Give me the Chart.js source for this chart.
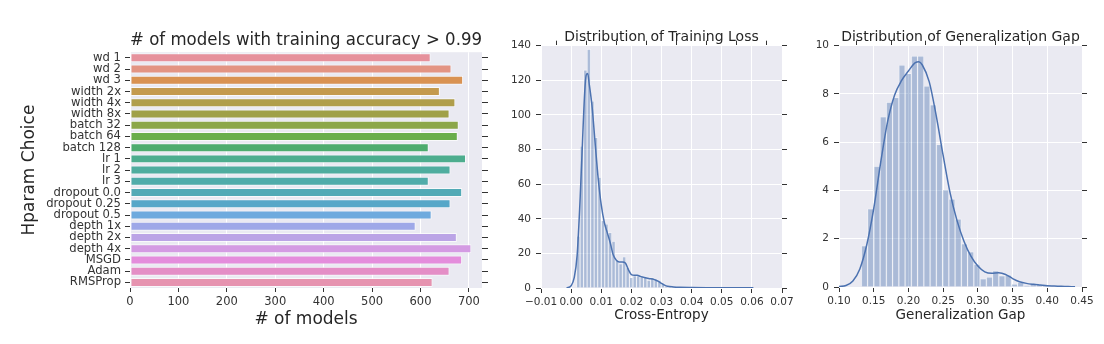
<!DOCTYPE html>
<html>
<head>
<meta charset="utf-8">
<script src="https://cdn.jsdelivr.net/npm/chart.js@4"></script>
<style>
  body { margin: 0; background: #fff; width: 1104px; height: 344px; overflow: hidden; position: relative; }
  canvas { position: absolute; top: 0; }
</style>
</head>
<body>
<canvas id="countChart" width="500" height="344" style="left:0"></canvas>
<canvas id="lossChart" width="300" height="344" style="left:500px"></canvas>
<canvas id="gapChart" width="304" height="344" style="left:800px"></canvas>
<script>
// Panel 1: models with training accuracy > 0.99
const hparams = ['wd 1', 'wd 2', 'wd 3', 'width 2x', 'width 4x', 'width 8x', 'batch 32', 'batch 64', 'batch 128',
    'lr 1', 'lr 2', 'lr 3', 'dropout 0.0', 'dropout 0.25', 'dropout 0.5', 'depth 1x', 'depth 2x', 'depth 4x',
    'MSGD', 'Adam', 'RMSProp'];
const modelCounts = [621, 664, 688, 640, 672, 660, 679, 677, 617, 694, 662, 617, 686, 662, 623, 590, 675, 705, 686, 660, 625];
const hparamColors = ['#e6919c', '#e39483', '#d99252', '#c49a4e', '#b09e4b', '#a0a148', '#8ca749', '#6aae4c', '#4eac6e',
    '#4dad8e', '#4fad9f', '#50acaa', '#52aab6', '#56a7c8', '#6eaade', '#9ea8e8', '#bba4e6', '#d49be3',
    '#e48ddc', '#e48ec6', '#e693b0'];

// Panel 2: training loss histogram (density) + kde
const lossBinStart = 0.0018;
const lossBinWidth = 0.00117;
const lossHist = [30, 82, 126, 138, 108, 87, 64, 39, 37, 32, 27, 16, 14, 18, 12, 6, 7, 7, 7, 6.5,
    4.5, 6, 5, 4.5, 2.5, 1.2, 0.8, 0.5, 0.4, 0.3, 0.3, 0.2, 0.2, 0.1, 0.2, 0.1, 0.1, 0.1, 0.1, 0,
    0.1, 0.1, 0, 0.1, 0, 0.1, 0.1, 0.1, 0.2, 0.3];
const lossKdeX = [-0.0015, 0, 0.001, 0.002, 0.003, 0.004, 0.0045, 0.005, 0.0055, 0.006, 0.007, 0.008, 0.009, 0.010,
    0.011, 0.012, 0.013, 0.014, 0.015, 0.016, 0.017, 0.018, 0.019, 0.020, 0.021, 0.022, 0.023, 0.024, 0.025,
    0.026, 0.027, 0.028, 0.029, 0.030, 0.031, 0.032, 0.034, 0.036, 0.040, 0.045, 0.050, 0.055, 0.058, 0.0605];
const lossKdeY = [0, 1.3, 5.8, 19, 52, 94, 113, 123, 124, 118, 104, 83, 63, 48,
    38, 32, 26, 19, 16, 15, 15, 14.4, 10.6, 7.7, 7.3, 7.3, 6.7, 6.2, 5.8,
    5.4, 5.2, 4.6, 3.8, 2.7, 1.7, 1.0, 0.6, 0.4, 0.25, 0.15, 0.1, 0.1, 0.2, 0.15];
const lossTicksX = [-0.01, 0.07, 0.01];
const lossTicksY = [0, 140, 20];

// Panel 3: generalization gap histogram (density) + kde
const gapBinStart = 0.1322;
const gapBinWidth = 0.009;
const gapHist = [1.71, 3.24, 5.0, 7.05, 7.66, 7.85, 9.2, 8.85, 9.57, 9.57, 8.33, 7.55, 5.9, 4.03, 3.65,
    2.82, 1.79, 1.46, 0.94, 0.34, 0.41, 0.67, 0.47, 0.5, 0.12, 0.2, 0.05, 0.15, 0.1, 0.05];
const gapKdeX = [0.10, 0.11, 0.12, 0.13, 0.14, 0.15, 0.16, 0.17, 0.18, 0.19, 0.20, 0.21, 0.215, 0.22, 0.23, 0.24,
    0.25, 0.26, 0.27, 0.28, 0.29, 0.30, 0.31, 0.32, 0.33, 0.34, 0.35, 0.36, 0.37, 0.38, 0.39, 0.40, 0.41, 0.42, 0.43, 0.44];
const gapKdeY = [0.02, 0.06, 0.25, 0.75, 1.75, 3.25, 5.15, 6.85, 7.95, 8.55, 8.95, 9.3, 9.33, 9.2, 8.5, 7.1,
    5.45, 3.9, 2.75, 1.9, 1.28, 0.87, 0.63, 0.57, 0.59, 0.52, 0.35, 0.22, 0.15, 0.11, 0.08, 0.05, 0.04, 0.03, 0.02, 0.01];
const gapTicksX = [0.10, 0.45, 0.05];
const gapTicksY = [0, 10, 2];

const FONT = 'DejaVu Sans';
const TEXT = '#262626';
const TICK = '#333';
const HIST_FILL = 'rgba(76,114,176,0.4)';
const HIST_EDGE = 'rgba(255,255,255,0.45)';
const KDE = '#4C72B0';

Chart.defaults.font.family = FONT;
Chart.defaults.color = TICK;
Chart.defaults.animation = false;
Chart.defaults.plugins.legend.display = false;
Chart.defaults.plugins.tooltip.enabled = false;

// grey plot background like seaborn darkgrid
const darkBg = {
    id: 'darkBg',
    beforeDraw(chart) {
        const { ctx, chartArea: a } = chart;
        ctx.save();
        ctx.fillStyle = '#EAEAF2';
        ctx.fillRect(a.left, a.top, a.width, a.height);
        ctx.restore();
    }
};

const fixW = w => s => { s.width = w; };
const fixH = h => s => { s.height = h; };
const fmt2 = v => Math.abs(v) < 1e-9 ? '0.00' : (v < 0 ? '\u2212' : '') + Math.abs(v).toFixed(2);

// Panel 1
new Chart(document.getElementById('countChart'), {
    type: 'bar',
    data: {
        labels: hparams,
        datasets: [{
            data: modelCounts,
            backgroundColor: hparamColors,
            borderColor: 'rgba(255,255,255,0.7)',
            borderWidth: 1,
            borderSkipped: false,
            barPercentage: 0.8,
            categoryPercentage: 1
        }]
    },
    options: {
        indexAxis: 'y',
        responsive: false,
        layout: { padding: 0 },
        plugins: {
            title: {
                display: true, text: '# of models with training accuracy > 0.99', fullSize: false,
                color: TEXT, font: { size: 17, weight: 'normal' }, padding: { top: 30.8, bottom: 1.0 }
            }
        },
        scales: {
            x: {
                type: 'linear', min: 0, max: 727,
                ticks: { stepSize: 100, includeBounds: false, autoSkip: false, font: { size: 11.5 }, color: TICK, padding: 3 },
                grid: { color: '#fff', lineWidth: 1, tickColor: TICK, tickLength: 4 },
                border: { display: false },
                title: { display: true, text: '# of models', color: TEXT, font: { size: 17 }, padding: { top: 0, bottom: 13.8 } },
                afterFit: fixH(56)
            },
            y: {
                offset: true,
                ticks: { autoSkip: false, font: { size: 11.6 }, color: TICK, padding: 4 },
                grid: { offset: false, drawOnChartArea: false, tickColor: TICK, tickLength: 5 },
                border: { display: false },
                title: { display: true, text: 'Hparam Choice', color: TEXT, font: { size: 17 }, padding: { top: 19.8, bottom: 0 } },
                afterFit: fixW(130)
            },
            y2: {
                type: 'category', labels: hparams, position: 'right', offset: true,
                ticks: { display: false, autoSkip: false },
                grid: { offset: false, drawOnChartArea: false, tickColor: TICK, tickLength: 6 },
                border: { display: false },
                afterFit: fixW(18)
            }
        }
    },
    plugins: [darkBg]
});

// Panels 2 and 3 share the same histogram + kde layout
function histChart(id, opts) {
    const bars = opts.hist.map((h, i) => ({ x: opts.binStart + (i + 0.5) * opts.binWidth, y: h }));
    const kde = opts.kdeX.map((x, i) => ({ x: x, y: opts.kdeY[i] }));
    const [xmin, xmax, xstep] = opts.ticksX;
    const [ymin, ymax, ystep] = opts.ticksY;
    const tickGrid = { drawOnChartArea: false, tickColor: TICK, tickLength: 5 };
    return new Chart(document.getElementById(id), {
        type: 'bar',
        data: {
            datasets: [{
                type: 'line', data: kde, order: 0,
                borderColor: KDE, borderWidth: 1.5, pointRadius: 0,
                cubicInterpolationMode: 'monotone'
            }, {
                data: bars, order: 1,
                backgroundColor: HIST_FILL, borderColor: HIST_EDGE, borderWidth: 0.8,
                borderSkipped: 'start', barPercentage: 1, categoryPercentage: 1
            }]
        },
        options: {
            responsive: false,
            layout: { padding: 0 },
            plugins: {
                title: {
                    display: true, text: opts.title, fullSize: false, color: TEXT,
                    font: { size: 14, weight: 'normal' }, padding: { top: 28.6, bottom: 0.3 }
                }
            },
            scales: {
                x: {
                    type: 'linear', min: xmin, max: xmax, offset: false,
                    ticks: { stepSize: xstep, callback: fmt2, autoSkip: false, font: { size: 10.5 }, color: TICK, padding: 3, maxRotation: 0 },
                    grid: { offset: false, color: '#fff', tickColor: TICK, tickLength: 5 },
                    border: { display: false },
                    title: { display: true, text: opts.xTitle, color: TEXT, font: { size: 13.5 }, padding: { top: 0, bottom: 20.9 } },
                    afterFit: fixH(opts.bottomH)
                },
                x2: {
                    type: 'linear', position: 'top', min: xmin, max: xmax, offset: false,
                    ticks: { stepSize: xstep, display: false, autoSkip: false },
                    grid: tickGrid, border: { display: false },
                    afterFit: fixH(0)
                },
                y: {
                    type: 'linear', min: ymin, max: ymax,
                    ticks: { stepSize: ystep, autoSkip: false, font: { size: 10.5 }, color: TICK, padding: 5 },
                    grid: { color: '#fff', tickColor: TICK, tickLength: 5 },
                    border: { display: false },
                    afterFit: fixW(opts.leftW)
                },
                y2: {
                    type: 'linear', position: 'right', min: ymin, max: ymax,
                    ticks: { stepSize: ystep, display: false, autoSkip: false },
                    grid: tickGrid, border: { display: false },
                    afterFit: fixW(opts.rightW)
                }
            }
        },
        plugins: [darkBg]
    });
}

histChart('lossChart', {
    title: 'Distribution of Training Loss', xTitle: 'Cross-Entropy',
    hist: lossHist, binStart: lossBinStart, binWidth: lossBinWidth,
    kdeX: lossKdeX, kdeY: lossKdeY, ticksX: lossTicksX, ticksY: lossTicksY,
    leftW: 41, rightW: 18, bottomH: 56
});

histChart('gapChart', {
    title: 'Distribution of Generalization Gap', xTitle: 'Generalization Gap',
    hist: gapHist, binStart: gapBinStart, binWidth: gapBinWidth,
    kdeX: gapKdeX, kdeY: gapKdeY, ticksX: gapTicksX, ticksY: gapTicksY,
    leftW: 39, rightW: 22, bottomH: 57
});
</script>
</body>
</html>
